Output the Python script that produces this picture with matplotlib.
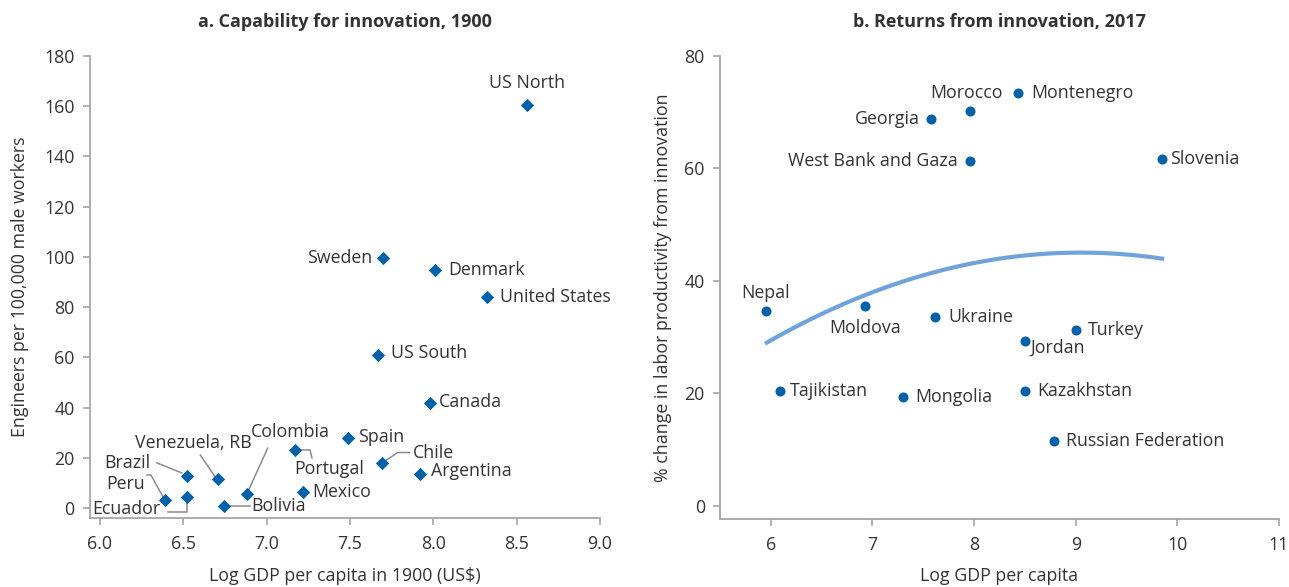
import numpy as np
import matplotlib
matplotlib.use("Agg")
import matplotlib.pyplot as plt
from matplotlib.transforms import ScaledTranslation

plt.rcParams['font.family'] = ['Open Sans', 'DejaVu Sans']

# ---- panel a: capability for innovation, 1900
names_a = ["US North", "Sweden", "Denmark", "United States", "US South", "Canada",
           "Spain", "Portugal", "Chile", "Argentina", "Mexico", "Colombia",
           "Bolivia", "Venezuela, RB", "Brazil", "Peru", "Ecuador"]
gdp_a = [8.56, 7.70, 8.01, 8.32, 7.67, 7.98, 7.49, 7.17, 7.69, 7.92, 7.22, 6.88,
         6.745, 6.71, 6.52, 6.39, 6.525]
eng_a = [160.4, 99.7, 94.8, 84.2, 61.0, 42.0, 28.1, 23.2, 18.2, 13.6, 6.6, 5.6,
         1.0, 11.6, 12.9, 3.3, 4.6]
xticks_a = [6.0, 6.5, 7.0, 7.5, 8.0, 8.5, 9.0]
yticks_a = [0, 20, 40, 60, 80, 100, 120, 140, 160, 180]

# ---- panel b: returns from innovation, 2017
names_b = ["Georgia", "Morocco", "West Bank and Gaza", "Montenegro", "Slovenia",
           "Nepal", "Moldova", "Ukraine", "Tajikistan", "Mongolia", "Turkey",
           "Jordan", "Kazakhstan", "Russian Federation"]
gdp_b = [7.58, 7.96, 7.96, 8.43, 9.85, 5.95, 6.93, 7.62, 6.09, 7.30, 9.00, 8.50,
         8.50, 8.79]
ret_b = [68.7, 70.1, 61.3, 73.3, 61.6, 34.6, 35.6, 33.5, 20.5, 19.3, 31.3, 29.3,
         20.5, 11.6]
fit_coef = [-1.675, 30.32, -92.19]   # quadratic trend
fit_range = (5.96, 9.85)
xticks_b = [6, 7, 8, 9, 10, 11]
yticks_b = [0, 20, 40, 60, 80]

blue = "#0061a9"
fit_color = "#6fa3da"
txt = "#333333"
spine_c = "#a6a6a6"
lead_c = "#8c8c8c"
fs = 12.8

# label placement: (dx, dy) in pixels, ha, optional leader path in pixels
place_a = {
    "US North": ((0, 22), "center", None),
    "Sweden": ((-11, 0), "right", None),
    "Denmark": ((13, 0), "left", None),
    "United States": ((13, 0), "left", None),
    "US South": ((13, 2), "left", None),
    "Canada": ((9, 1), "left", None),
    "Spain": ((10, 1), "left", None),
    "Portugal": ((34, -19), "center", [(5, 0), (15, 0), (17, -8)]),
    "Chile": ((31, 10), "left", [(4, 2), (16, 10), (28, 10)]),
    "Argentina": ((11, 3), "left", None),
    "Mexico": ((9, 0), "left", None),
    "Colombia": ((44, 62), "center", [(21, 46), (1, 2)]),
    "Bolivia": ((27, 0), "left", [(5, 0), (26, 0)]),
    "Venezuela, RB": ((33, 36), "right", [(-18, 24), (-3, 2)]),
    "Brazil": ((-36, 13), "right", [(-30, 13), (-5, 3)]),
    "Peru": ((-20, 16), "right", [(-18, 25), (-14, 25), (-2, 3)]),
    "Ecuador": ((-27, -12), "right", [(0, -6), (0, -15), (-19, -15)]),
}
place_b = {
    "Georgia": ((-12, 0), "right"),
    "Morocco": ((33, 18), "right"),
    "West Bank and Gaza": ((-12, 0), "right"),
    "Montenegro": ((13, 0), "left"),
    "Slovenia": ((8, 0), "left"),
    "Nepal": ((0, 18), "center"),
    "Moldova": ((0, -22), "center"),
    "Ukraine": ((13, 0), "left"),
    "Tajikistan": ((10, 0), "left"),
    "Mongolia": ((12, 0), "left"),
    "Turkey": ((12, 0), "left"),
    "Jordan": ((6, -7), "left"),
    "Kazakhstan": ((12, 0), "left"),
    "Russian Federation": ((12, 0), "left"),
}


def style_axes(ax):
    for s in ["top", "right"]:
        ax.spines[s].set_visible(False)
    for s in ["left", "bottom"]:
        ax.spines[s].set_color(spine_c)
        ax.spines[s].set_linewidth(1.3)
    ax.tick_params(colors=spine_c, labelcolor=txt, labelsize=fs, length=5,
                   width=1.2, direction="out")
    ax.tick_params(axis="x", pad=7)
    ax.tick_params(axis="y", pad=6)


fig = plt.figure(figsize=(12.89, 5.87), dpi=100)
ax1 = fig.add_axes([0.0698, 0.117, 0.3957, 0.788])
ax2 = fig.add_axes([0.5586, 0.116, 0.4336, 0.789])

# panel a
ax1.scatter(gdp_a, eng_a, marker="D", s=46, color=blue, zorder=3, linewidths=0)
for name, x, y in zip(names_a, gdp_a, eng_a):
    (dx, dy), ha, lead = place_a[name]
    ax1.annotate(name, (x, y), xytext=(dx, dy), textcoords="offset pixels",
                 ha=ha, va="center", fontsize=fs, color=txt)
    if lead:
        lx, ly = zip(*lead)
        ax1.plot(lx, ly, color=lead_c, lw=1.1, clip_on=False,
                 transform=ScaledTranslation(x, y, ax1.transData))
ax1.set_xlim(5.94, 9.0)
ax1.set_ylim(-4, 180)
ax1.set_xticks(xticks_a)
ax1.set_xticklabels([f"{t:.1f}" for t in xticks_a])
ax1.set_yticks(yticks_a)
style_axes(ax1)
ax1.set_xlabel("Log GDP per capita in 1900 (US$)", fontsize=fs, color=txt, labelpad=10)
ax1.set_ylabel("Engineers per 100,000 male workers", fontsize=fs, color=txt, labelpad=11)
ax1.set_title("a. Capability for innovation, 1900", fontsize=13, fontweight="bold",
              color=txt, pad=21)

# panel b
xf = np.linspace(fit_range[0], fit_range[1], 100)
ax2.plot(xf, np.polyval(fit_coef, xf), color=fit_color, lw=3, zorder=2)
ax2.scatter(gdp_b, ret_b, marker="o", s=52, color=blue, zorder=3, linewidths=0)
for name, x, y in zip(names_b, gdp_b, ret_b):
    (dx, dy), ha = place_b[name]
    ax2.annotate(name, (x, y), xytext=(dx, dy), textcoords="offset pixels",
                 ha=ha, va="center", fontsize=fs, color=txt)
ax2.set_xlim(5.5, 11)
ax2.set_ylim(-2.3, 80)
ax2.set_xticks(xticks_b)
ax2.set_yticks(yticks_b)
style_axes(ax2)
ax2.set_xlabel("Log GDP per capita", fontsize=fs, color=txt, labelpad=10)
ax2.set_ylabel("% change in labor productivity from innovation", fontsize=fs,
               color=txt, labelpad=9)
ax2.set_title("b. Returns from innovation, 2017", fontsize=13, fontweight="bold",
              color=txt, pad=21)

fig.savefig("out.png", dpi=100)
